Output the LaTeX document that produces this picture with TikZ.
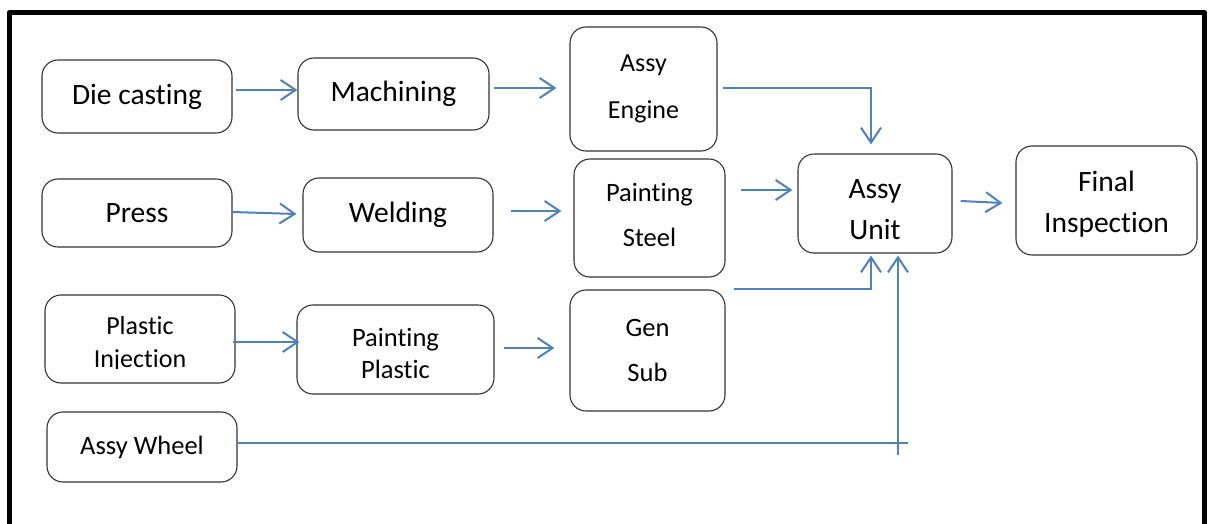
\documentclass[tikz,border=0pt]{standalone}
\usepackage{fontspec}
\setmainfont{Carlito}[Ligatures=NoCommon]
\usetikzlibrary{arrows.meta}
\definecolor{flowblue}{HTML}{4F81BD}
\begin{document}
\begin{tikzpicture}[x=1pt,y=-1pt,
  box/.style={draw=black!80, line width=1.1pt, rounded corners=16pt,
              align=center, inner sep=0pt},
  big/.style={font=\fontsize{29.5}{35}\selectfont},
  small/.style={font=\fontsize{26.5}{32}\selectfont},
  flow/.style={draw=flowblue, line width=2pt,
               -{Straight Barb[length=15pt,width=20pt]}},
  plain/.style={draw=flowblue, line width=2pt}]
\useasboundingbox (0,0) rectangle (1213,524);

% outer frame, open at the bottom
\draw[line width=5pt, line join=round] (9.5,524) -- (9.5,12.5) -- (1204.5,12.5) -- (1204.5,524);

% process steps
\node[box,big,minimum width=190pt,minimum height=73pt] (die) at (137,96.5) {Die casting};
\node[box,big,minimum width=191pt,minimum height=72pt] (mach) at (393.5,94) {Machining};
\node[box,font=\fontsize{26}{47}\selectfont,minimum width=147pt,minimum height=124pt] (eng) at (643.5,89) {Assy\\Engine};

\node[box,big,minimum width=190pt,minimum height=68pt] (press) at (137,213) {Press};
\node[box,big,minimum width=190pt,minimum height=74pt] (weld) at (398,215) {Welding};
\node[box,font=\fontsize{26.5}{45}\selectfont,minimum width=151pt,minimum height=118pt] (steel) at (649.5,218) {Painting\\Steel\rule[-6pt]{0pt}{6pt}};

\node[box,font=\fontsize{29.5}{41}\selectfont,minimum width=154pt,minimum height=99pt] (unit) at (875,203.5) {\rule{0pt}{31pt}Assy\\Unit};
\node[box,font=\fontsize{29.5}{41}\selectfont,minimum width=181pt,minimum height=109pt] (final) at (1106.5,200.5) {\rule{0pt}{28pt}Final\\Inspection};

\node[box,minimum width=190pt,minimum height=88pt] (pinj) at (140,339) {};
\begin{scope}
  \clip (0,0) rectangle (1213,368);
  \node[align=center,inner sep=0pt,font=\fontsize{26}{33}\selectfont] (pinjtext) at (140,344) {Plastic\\Injection};
\end{scope}
\node[box,font=\fontsize{26.5}{32}\selectfont,minimum width=197pt,minimum height=89pt] (ppla) at (395.5,349.5) {\rule{0pt}{26pt}Painting\\Plastic};
\node[box,font=\fontsize{26.5}{45}\selectfont,minimum width=155pt,minimum height=121pt] (gen) at (647.5,350.5) {Gen\\Sub};

\node[box,small,minimum width=190pt,minimum height=70pt] (wheel) at (142,447) {Assy Wheel};

% connectors
\draw[flow] ([xshift=3pt,yshift=6.5pt]die.east) -- ([yshift=4pt]mach.west);
\draw[flow] ([xshift=4pt,yshift=6pt]mach.east) -- ([xshift=-13pt,yshift=1pt]eng.west);
\draw[flow] ([yshift=1pt]press.east) -- ([xshift=-6pt,yshift=1pt]weld.west);
\draw[flow] ([xshift=17pt,yshift=4pt]weld.east) -- ([xshift=-12pt,yshift=7pt]steel.west);
\draw[flow] ([xshift=-3pt,yshift=-3pt]pinj.east) -- ([xshift=3pt,yshift=7.5pt]ppla.west);
\draw[flow] ([xshift=9pt,yshift=1.5pt]ppla.east) -- ([xshift=-15pt,yshift=2.5pt]gen.west);

\draw[flow] ([xshift=5pt,yshift=1pt]eng.east) -| ([xshift=-4pt,yshift=9pt]unit.north);
\draw[flow] ([xshift=15pt,yshift=28pt]steel.east) -- ([xshift=-5pt,yshift=13.5pt]unit.west);
\draw[flow] ([xshift=8pt]gen.north east) -| ([xshift=-4pt,yshift=-2pt]unit.south);

\coordinate (wj) at (898,443);
\draw[plain] ([yshift=4pt]wheel.east) -- ([xshift=10pt]wj);
\draw[flow] ([yshift=-12pt]wj) -- ([xshift=23pt,yshift=-2pt]unit.south);

\draw[flow] ([xshift=8pt,yshift=2.5pt]unit.east) -- ([xshift=-13pt,yshift=-2.5pt]final.west);
\end{tikzpicture}
\end{document}
